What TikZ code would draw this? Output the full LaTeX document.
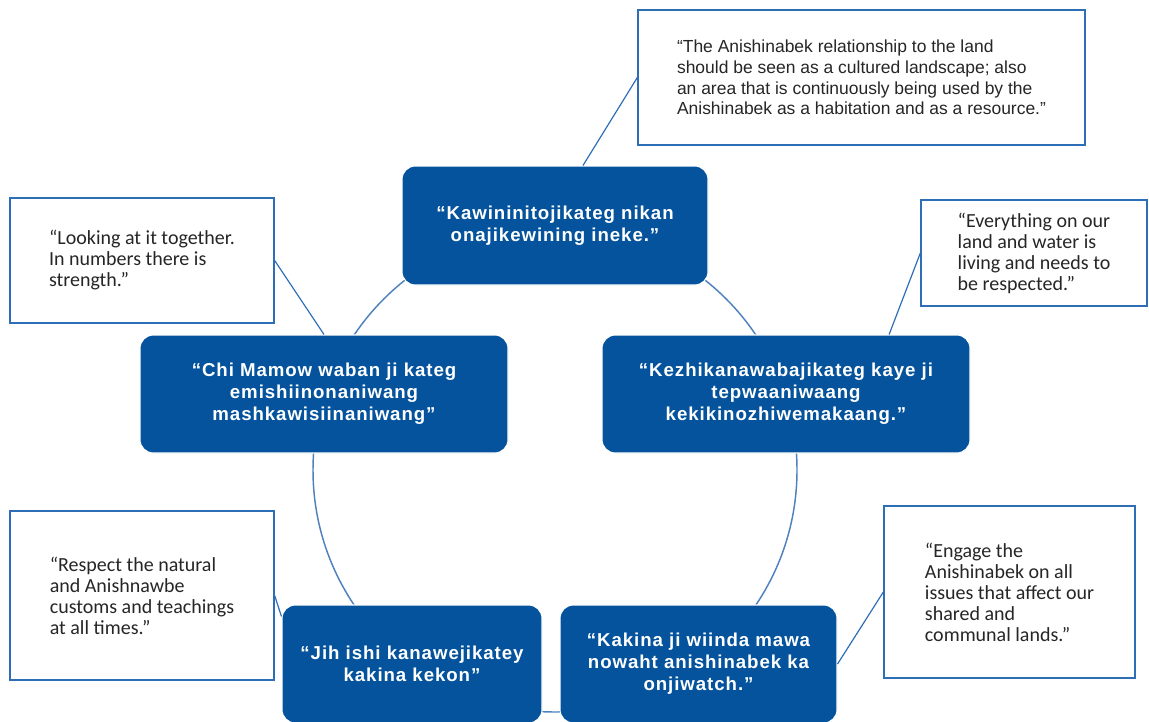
\documentclass[tikz,border=0pt]{standalone}
\usepackage{fontspec}
\setmainfont{Liberation Sans}
\newfontfamily\keyfont{Liberation Sans}[LetterSpace=5]
\newfontfamily\quotefont{Carlito}
\usepackage{xcolor}
\usetikzlibrary{calc,positioning}
\definecolor{keyblue}{RGB}{4,83,156}
\definecolor{ringblue}{RGB}{79,129,189}
\definecolor{edgeblue}{RGB}{46,110,182}
\definecolor{quotetext}{RGB}{38,38,38}

\begin{document}
\begin{tikzpicture}[x=0.75pt, y=-0.75pt,
		keybox/.style={rectangle, rounded corners=10pt, fill=keyblue, draw=white, line width=0.8pt, text=white, align=center, inner sep=0pt, font=\keyfont\bfseries\fontsize{14}{16.5}\selectfont, minimum height=88.5pt},
		quotebox/.style={rectangle, draw=edgeblue, line width=1pt, fill=white, align=left, inner sep=0pt, text=quotetext, font=\quotefont\fontsize{15}{15.75}\selectfont},
		link/.style={draw=edgeblue, line width=0.9pt}]
			\useasboundingbox (0,0) rectangle (1149,721);
			\coordinate (ring) at (555,470);
			\draw [ringblue, line width=1.1pt] (ring) circle (181.5pt);
			\node [keybox, minimum width=229.5pt, minimum height=89.25pt] (ktop) at (555,225.5) {“Kawininitojikateg nikan\\onajikewining ineke.”};
			\node [keybox, minimum width=276pt] (kleft) at (324,394) {“Chi Mamow waban ji kateg\\emishiinonaniwang\\mashkawisiinaniwang”};
			\node [keybox, minimum width=276pt] (kright) at (786,394) {“Kezhikanawabajikateg kaye ji\\tepwaaniwaang\\kekikinozhiwemakaang.”};
			\node [keybox, minimum width=195pt] (kjih) at (412,664) {“Jih ishi kanawejikatey\\kakina kekon”};
			\node [keybox, minimum width=207.75pt] (kkak) at (698.5,664) {“Kakina ji wiinda mawa\\nowaht anishinabek ka\\onjiwatch.”};
			\node [quotebox, font=\fontsize{13.1}{15.4}\selectfont, minimum width=335.25pt, minimum height=101.25pt] (qland) at (861.5,77.5) {“The Anishinabek relationship to the land\\should be seen as a cultured landscape; also\\an area that is continuously being used by the\\Anishinabek as a habitation and as a resource.”};
			\node [quotebox, minimum width=198pt, minimum height=93.75pt] (qtog) at (142,260.5) {“Looking at it together.\\In numbers there is\\strength.”};
			\node [quotebox, minimum width=169.5pt, minimum height=79.5pt] (qliv) at (1034,253) {“Everything on our\\land and water is\\living and needs to\\be respected.”};
			\node [quotebox, minimum width=198pt, minimum height=126.75pt] (qresp) at (142,595.5) {“Respect the natural\\and Anishnawbe\\customs and teachings\\at all times.”};
			\node [quotebox, minimum width=188.25pt, minimum height=129pt] (qeng) at (1009.5,592) {“Engage the\\Anishinabek on all\\issues that affect our\\shared and\\communal lands.”};
			\draw [link] (qland.west) -- (ktop.65);
			\draw [link] (qtog.east) -- (kleft.north);
			\draw [link] (qliv.west) -- (kright.30);
			\draw [link] (qresp.east) -- (kjih.160);
			\draw [link] (qeng.west) -- (kkak.east);
\end{tikzpicture}
\end{document}
